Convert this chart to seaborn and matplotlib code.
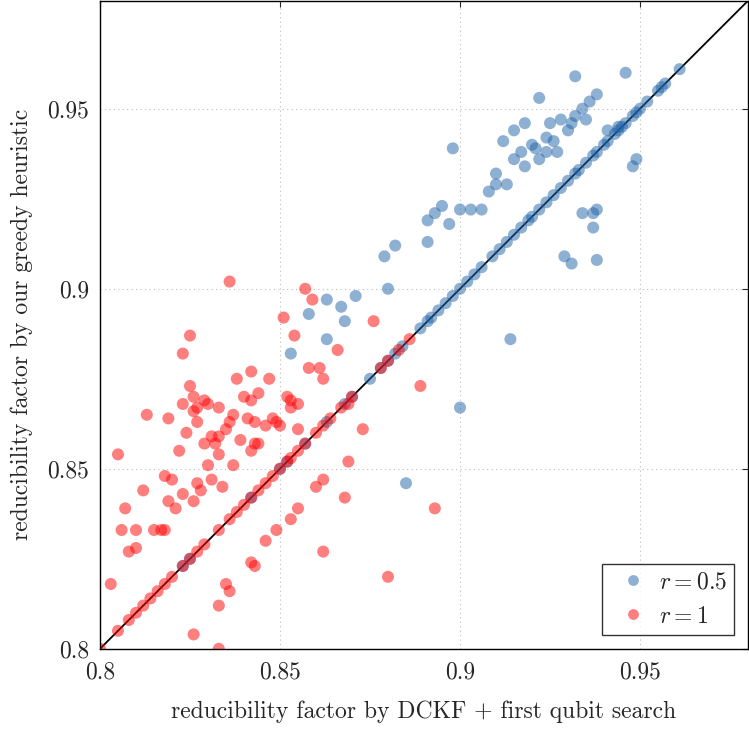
import matplotlib
matplotlib.use("Agg")
import matplotlib.pyplot as plt
import seaborn as sns
import pandas as pd

blue_off_x = [0.915,0.918,0.922,0.925,0.920,0.917,0.912,0.915,0.910,0.908,0.910,0.913,0.918,0.922,0.924,0.927,0.930,0.932,0.934,0.936,0.938,0.935,0.931,0.928,0.926,0.924,0.921,0.898,0.900,0.903,0.906,0.895,0.893,0.891,0.897,0.891,0.882,0.879,0.880,0.871,0.867,0.868,0.863,0.858,0.863,0.853,0.946,0.932,0.929,0.931,0.934,0.937,0.937,0.938,0.938,0.948,0.949,0.914,0.900,0.885,0.941,0.944]
blue_off_y = [0.944,0.946,0.953,0.946,0.940,0.938,0.941,0.936,0.932,0.927,0.929,0.929,0.934,0.936,0.942,0.938,0.944,0.948,0.950,0.952,0.954,0.947,0.946,0.947,0.941,0.938,0.939,0.939,0.922,0.922,0.922,0.923,0.921,0.919,0.918,0.913,0.912,0.909,0.900,0.898,0.895,0.891,0.897,0.893,0.886,0.882,0.960,0.959,0.909,0.907,0.921,0.921,0.917,0.922,0.908,0.934,0.936,0.886,0.867,0.846,0.944,0.945]
blue_diag = [0.823,0.825,0.842,0.850,0.852,0.857,0.863,0.868,0.870,0.875,0.878,0.880,0.882,0.884,0.889,0.891,0.892,0.894,0.896,0.898,0.900,0.902,0.904,0.906,0.909,0.911,0.913,0.915,0.917,0.919,0.920,0.922,0.924,0.926,0.928,0.930,0.932,0.933,0.935,0.937,0.938,0.940,0.941,0.943,0.944,0.945,0.946,0.948,0.949,0.950,0.952,0.955,0.956,0.957,0.961]

red_off_x = [0.805,0.803,0.806,0.807,0.808,0.810,0.810,0.812,0.813,0.815,0.817,0.818,0.819,0.818,0.819,0.820,0.821,0.822,0.823,0.823,0.823,0.824,0.825,0.825,0.826,0.826,0.826,0.827,0.827,0.827,0.828,0.829,0.829,0.830,0.830,0.831,0.831,0.832,0.833,0.833,0.833,0.834,0.835,0.836,0.836,0.837,0.837,0.838,0.839,0.840,0.841,0.842,0.842,0.842,0.843,0.843,0.844,0.844,0.846,0.847,0.848,0.849,0.850,0.851,0.852,0.853,0.853,0.854,0.855,0.855,0.857,0.858,0.859,0.861,0.862,0.866,0.869,0.873,0.876,0.889,0.835,0.836,0.842,0.843,0.833,0.826,0.833,0.846,0.849,0.853,0.855,0.860,0.862,0.862,0.868,0.869,0.880,0.893]
red_off_y = [0.854,0.818,0.833,0.839,0.827,0.833,0.828,0.844,0.865,0.833,0.833,0.833,0.841,0.848,0.864,0.847,0.839,0.855,0.843,0.868,0.882,0.860,0.887,0.873,0.870,0.866,0.841,0.867,0.863,0.846,0.844,0.857,0.869,0.868,0.851,0.847,0.859,0.857,0.867,0.854,0.859,0.845,0.861,0.902,0.863,0.865,0.851,0.875,0.858,0.870,0.864,0.877,0.869,0.855,0.857,0.863,0.857,0.871,0.862,0.875,0.864,0.863,0.862,0.892,0.870,0.867,0.869,0.887,0.868,0.861,0.900,0.878,0.897,0.878,0.875,0.883,0.868,0.861,0.891,0.873,0.818,0.816,0.824,0.823,0.812,0.804,0.800,0.830,0.833,0.836,0.839,0.845,0.847,0.827,0.842,0.852,0.820,0.839]
red_diag = [0.800,0.805,0.808,0.810,0.812,0.814,0.816,0.818,0.820,0.823,0.825,0.827,0.829,0.833,0.836,0.838,0.840,0.842,0.844,0.846,0.848,0.850,0.852,0.853,0.855,0.857,0.860,0.862,0.864,0.867,0.870,0.878,0.880,0.883,0.886]

labels = ["$r = 0.5$", "$r = 1$"]

sns.set_style("white")
plt.rcParams["font.family"] = "serif"
plt.rcParams["font.serif"] = ["cmr10", "DejaVu Serif"]
plt.rcParams["mathtext.fontset"] = "cm"
plt.rcParams["axes.formatter.use_mathtext"] = True

df = pd.concat([
    pd.DataFrame({"x": blue_off_x + blue_diag, "y": blue_off_y + blue_diag, "s": labels[0]}),
    pd.DataFrame({"x": red_off_x + red_diag, "y": red_off_y + red_diag, "s": labels[1]}),
])

fig = plt.figure(figsize=(7.49, 7.29), dpi=100)
ax = fig.add_axes([0.1335, 0.11, 0.8652, 0.889])
ax.plot([0.8, 0.98], [0.8, 0.98], color="black", lw=1.3, zorder=1)
sns.scatterplot(data=df, x="x", y="y", hue="s", palette=["#1f63a8", "#ff0000"],
                alpha=0.5, s=75, edgecolor="none", ax=ax, zorder=2)
ax.set_xlim(0.8, 0.98)
ax.set_ylim(0.8, 0.98)
ticks = [0.8, 0.85, 0.9, 0.95]
ax.set_xticks(ticks)
ax.set_yticks(ticks)
ax.set_xticklabels(["0.8", "0.85", "0.9", "0.95"], fontsize=17)
ax.set_yticklabels(["0.8", "0.85", "0.9", "0.95"], fontsize=17)
ax.tick_params(axis="x", direction="in", top=True, length=4, pad=9)
ax.tick_params(axis="y", direction="in", right=True, length=4, pad=8)
ax.grid(True, color="#bbbbbb", linestyle=(0, (1, 3)), lw=0.8)
for sp in ax.spines.values():
    sp.set_color("black"); sp.set_linewidth(1.0)
ax.set_xlabel("reducibility factor by DCKF + first qubit search", fontsize=17, labelpad=12)
ax.set_ylabel("reducibility factor by our greedy heuristic", fontsize=17, labelpad=10)
leg = ax.legend(loc="lower right", fontsize=17, frameon=True, fancybox=False,
                edgecolor="black", handletextpad=0.1, borderpad=0.3, borderaxespad=0.6,
                markerscale=0.9)
leg.get_frame().set_linewidth(1.0)
fig.savefig("out.png", dpi=100)
